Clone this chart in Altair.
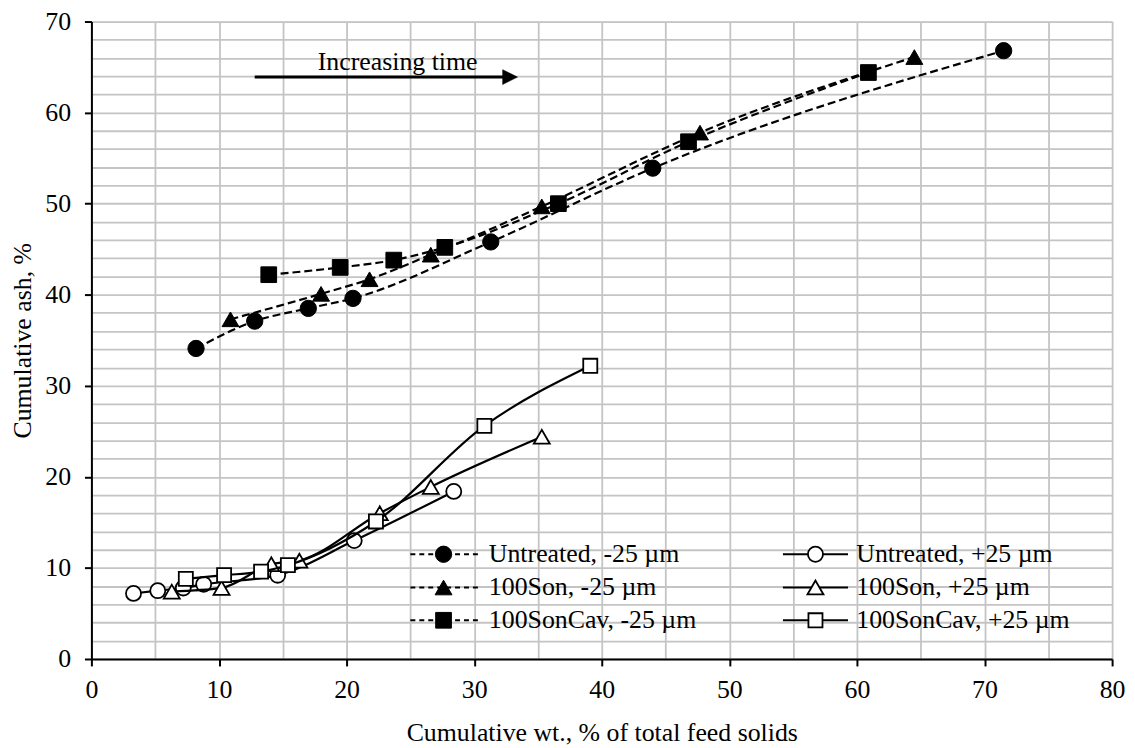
import altair as alt
import pandas as pd

# ---------------- data ----------------
untreated_m_x = [8.2, 12.8, 17.0, 20.5, 31.3, 44.0, 71.5]
untreated_m_y = [34.1, 37.1, 38.5, 39.6, 45.8, 53.9, 66.8]
son_m_x = [10.9, 18.0, 21.8, 26.6, 35.3, 47.7, 64.5]
son_m_y = [37.3, 40.1, 41.7, 44.4, 49.7, 57.8, 66.1]
cav_m_x = [13.9, 19.5, 23.7, 27.7, 36.6, 46.8, 60.9]
cav_m_y = [42.2, 43.0, 43.8, 45.2, 50.0, 56.8, 64.4]

untreated_p_x = [3.3, 5.2, 7.2, 8.8, 14.6, 20.6, 28.4]
untreated_p_y = [7.2, 7.5, 7.8, 8.2, 9.2, 13.0, 18.4]
son_p_x = [6.3, 10.2, 14.1, 16.3, 22.6, 26.6, 35.3]
son_p_y = [7.4, 7.8, 10.4, 10.8, 16.0, 18.9, 24.4]
cav_p_x = [7.4, 10.4, 13.3, 15.4, 22.3, 30.8, 39.1]
cav_p_y = [8.8, 9.2, 9.6, 10.3, 15.1, 25.6, 32.2]

# annotation
arrow_x = [12.8, 32.4]
arrow_y = [63.9, 63.9]
arrow_tip_x = [33.4]
note_x = [24.0]
note_y = [64.7]
note_text = ["Increasing time"]

# legend (placed inside the plot, in data units): two columns x three rows
legend_labels = [
    "Untreated, -25 µm", "100Son, -25 µm", "100SonCav, -25 µm",
    "Untreated, +25 µm", "100Son, +25 µm", "100SonCav, +25 µm",
]
legend_col_start = [25.0, 54.2]
legend_col_marker = [27.6, 56.75]
legend_col_end = [30.3, 59.3]
legend_col_label = [31.15, 59.95]
legend_row_y = [11.5, 7.85, 4.25]

x_grid_values = list(range(0, 81, 5))
y_grid_values = list(range(0, 71, 2))

FONT = "Liberation Serif"
FS = 26

# ---------------- axes ----------------
x_axis = alt.Axis(
    values=x_grid_values,
    labelExpr="datum.value % 10 === 0 ? datum.label : ''",
    tickOpacity={"expr": "datum.value % 10 === 0 ? 1 : 0"},
    labelOverlap=False, labelFlush=False,
    grid=True, gridColor="#c4c4c4", gridWidth=1.8,
    domainColor="black", domainWidth=2,
    tickColor="black", tickWidth=2, tickSize=7,
    labelFont=FONT, labelFontSize=FS, labelColor="black", labelPadding=11,
    titleFont=FONT, titleFontSize=FS, titleColor="black", titleFontWeight="normal",
    titlePadding=17,
)
y_axis = alt.Axis(
    values=y_grid_values,
    labelExpr="datum.value % 10 === 0 ? datum.label : ''",
    tickOpacity={"expr": "datum.value % 10 === 0 ? 1 : 0"},
    labelOverlap=False, labelFlush=False,
    grid=True, gridColor="#c4c4c4", gridWidth=1.8,
    domainColor="black", domainWidth=2,
    tickColor="black", tickWidth=2, tickSize=7,
    labelFont=FONT, labelFontSize=FS, labelColor="black", labelPadding=14,
    titleFont=FONT, titleFontSize=FS, titleColor="black", titleFontWeight="normal",
    titlePadding=9,
)

X_TITLE = "Cumulative wt., % of total feed solids"
X_SCALE = alt.Scale(domain=[0, 80], nice=False)
X = alt.X("x:Q", scale=X_SCALE, axis=x_axis, title=X_TITLE)
Y = alt.Y("y:Q", scale=alt.Scale(domain=[0, 70], nice=False), axis=y_axis,
          title="Cumulative ash, %")

# ---------------- series layers ----------------
series_specs = [
    ("Untreated, -25 µm", untreated_m_x, untreated_m_y, "circle", True, 270),
    ("100Son, -25 µm", son_m_x, son_m_y, "triangle-up", True, 290),
    ("100SonCav, -25 µm", cav_m_x, cav_m_y, "square", True, 250),
    ("Untreated, +25 µm", untreated_p_x, untreated_p_y, "circle", False, 230),
    ("100Son, +25 µm", son_p_x, son_p_y, "triangle-up", False, 260),
    ("100SonCav, +25 µm", cav_p_x, cav_p_y, "square", False, 200),
]


def marker(data, shape, filled, size):
    if filled:
        return alt.Chart(data).mark_point(shape=shape, size=size, filled=True,
                                          fill="black", stroke="black", strokeWidth=1,
                                          opacity=1)
    return alt.Chart(data).mark_point(shape=shape, size=size, filled=True,
                                      fill="white", stroke="black", strokeWidth=1.8,
                                      opacity=1)


layers = []
for name, xs, ys, shape, filled, size in series_specs:
    d = pd.DataFrame({"x": xs, "y": ys, "series": name})
    line_kw = dict(color="black", strokeWidth=2.2, interpolate="monotone")
    if filled:
        line_kw["strokeDash"] = [8, 4]
    layers.append(alt.Chart(d).mark_line(**line_kw).encode(x=X, y=Y))
    layers.append(marker(d, shape, filled, size).encode(x=X, y=Y))

# ---------------- annotation ----------------
arrow_df = pd.DataFrame({"x": arrow_x, "y": arrow_y})
arrow_line = alt.Chart(arrow_df).mark_line(color="black", strokeWidth=3).encode(x=X, y=Y)
tip_df = pd.DataFrame({"x": arrow_tip_x, "y": arrow_y[:1]})
arrow_head = alt.Chart(tip_df).mark_point(
    shape="M0,0L-2,-1L-2,1Z", size=225, filled=True, fill="black",
    stroke="black", strokeWidth=0.5, opacity=1).encode(x=X, y=Y)
note_df = pd.DataFrame({"x": note_x, "y": note_y, "t": note_text})
note = alt.Chart(note_df).mark_text(
    font=FONT, fontSize=FS, color="black", align="center", baseline="alphabetic"
).encode(x=X, y=Y, text="t:N")
layers += [arrow_line, arrow_head, note]

# ---------------- legend ----------------
for i, (name, _, _, shape, filled, size) in enumerate(series_specs):
    col = 0 if filled else 1
    row = i % 3
    ld = pd.DataFrame({
        "x": [legend_col_start[col]], "x2": [legend_col_end[col]],
        "xm": [legend_col_marker[col]], "xl": [legend_col_label[col]],
        "y": [legend_row_y[row]], "label": [legend_labels[i]],
    })
    rule_kw = dict(color="black", strokeWidth=2.2)
    if filled:
        rule_kw["strokeDash"] = [5, 4]
    layers.append(alt.Chart(ld).mark_rule(**rule_kw).encode(x=X, x2="x2:Q", y=Y))
    layers.append(marker(ld, shape, filled, size).encode(
        x=alt.X("xm:Q", scale=X_SCALE, axis=x_axis, title=X_TITLE), y=Y))
    layers.append(alt.Chart(ld).mark_text(
        font=FONT, fontSize=FS, color="black", align="left", baseline="middle"
    ).encode(x=alt.X("xl:Q", scale=X_SCALE, axis=x_axis, title=X_TITLE),
             y=Y, text="label:N"))

chart = alt.layer(*layers).properties(
    width=1028, height=642,
    padding={"left": 84, "top": 11, "right": 15, "bottom": 85},
    autosize=alt.AutoSizeParams(type="none"),
).configure_view(strokeWidth=0).configure(font=FONT)

chart.save("out.html", embed_options={"renderer": "svg", "actions": False})
